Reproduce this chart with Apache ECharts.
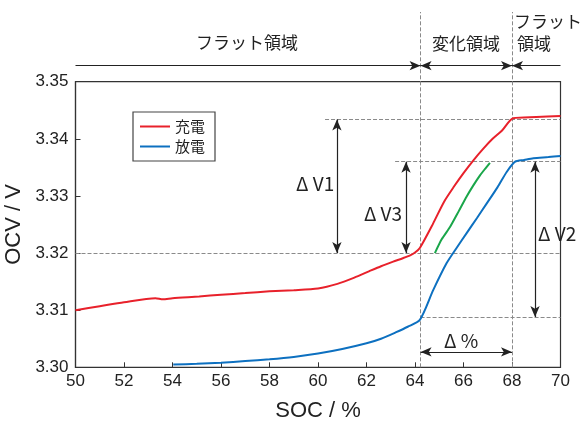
<!DOCTYPE html>
<html>
<head>
<meta charset="utf-8">
<script src="https://cdn.jsdelivr.net/npm/echarts@6/dist/echarts.min.js"></script>
<style>
  html, body { margin: 0; padding: 0; background: #fff; }
  #chart { width: 583px; height: 426px; }
</style>
</head>
<body>
<div id="chart"></div>
<script>
// SOC (%) and open-circuit voltage (V) for each curve
const socCharge = [50, 51, 52, 53.3, 53.6, 54, 55.1, 56, 57, 58, 59, 60, 60.8, 61.5, 62.1, 62.6, 63.1, 63.5, 63.8, 64.0, 64.2, 64.75, 65.2, 65.6, 66.0, 66.4, 66.8, 67.2, 67.6, 68.05, 69, 70];
const ocvCharge = [3.3100, 3.3107, 3.3114, 3.3121, 3.3119, 3.3121, 3.3124, 3.3127, 3.3130, 3.3133, 3.3135, 3.3138, 3.3146, 3.3157, 3.3168, 3.3177, 3.3185, 3.3191, 3.3196, 3.3201, 3.3209, 3.3252, 3.3290, 3.3316, 3.3340, 3.3362, 3.3382, 3.3400, 3.3415, 3.3436, 3.3438, 3.3440];

const socDischarge = [54.03, 55, 56, 57, 58, 59, 60, 61, 62, 62.6, 63.2, 63.7, 64.2, 64.75, 65.3, 65.7, 66.13, 66.55, 66.96, 67.4, 67.78, 68.13, 68.5, 68.88, 69.5, 70];
const ocvDischarge = [3.3005, 3.3006, 3.3008, 3.3011, 3.3014, 3.3018, 3.3024, 3.3032, 3.3042, 3.3050, 3.3061, 3.3071, 3.3083, 3.3135, 3.3182, 3.3208, 3.3235, 3.3261, 3.3287, 3.3315, 3.3342, 3.3360, 3.3363, 3.3366, 3.3368, 3.3370];

const socShifted = [64.82, 65.1, 65.45, 65.8, 66.13, 66.4, 66.68, 66.9, 67.09];
const ocvShifted = [3.3200, 3.3224, 3.3246, 3.3273, 3.3299, 3.3318, 3.3336, 3.3348, 3.3358];

const seriesNames = ['充電', '放電'];
const xTicks = [50, 52, 54, 56, 58, 60, 62, 64, 66, 68, 70];
const yTicks = [3.30, 3.31, 3.32, 3.33, 3.34, 3.35];

// reference levels and boundaries used by the annotations
const socEdgeLow = 64.23;
const socEdgeHigh = 68;
const vChargeTop = 3.3434;
const vDischargeTop = 3.336;
const vBase = 3.32;
const vDischargeLow = 3.3088;
const vRegionLine = 3.3528;
const vGuideTop = 3.3622;
const vSpanArrow = 3.3027;

// plot box in pixels; the overlay grid shares its scale but reaches the top edge
const plot = { left: 75.5, right: 22.5, top: 81.7, bottom: 58.7, height: 426 };
const plotHeight = plot.height - plot.top - plot.bottom;
const overlayMax = 3.30 + 0.05 * (plot.height - plot.bottom) / plotHeight;

const zip = (xs, ys) => xs.map((x, i) => [x, ys[i]]);

const dashed = { type: 'dashed', color: '#8a8a8a', width: 1 };
const solid = { type: 'solid', color: '#222', width: 1.2 };

function seg(x1, y1, x2, y2, style, symbols) {
  return [
    { coord: [x1, y1], lineStyle: style, symbol: symbols ? symbols[0] : 'none' },
    { coord: [x2, y2], symbol: symbols ? symbols[1] : 'none' }
  ];
}

function note(x, y, text, size, align) {
  return {
    coord: [x, y],
    symbol: 'rect',
    symbolSize: 0,
    label: {
      show: true,
      position: 'inside',
      formatter: text,
      fontSize: size,
      color: '#222',
      align: align || 'center',
      fontFamily: '"Noto Sans CJK JP", "Liberation Sans", sans-serif'
    }
  };
}

const numFont = '"Liberation Sans", Arial, sans-serif';

const chart = echarts.init(document.getElementById('chart'));
chart.setOption({
  animation: false,
  grid: [
    {
      left: plot.left, right: plot.right, top: plot.top, bottom: plot.bottom,
      outerBoundsMode: 'none',
      show: true, borderColor: '#333', borderWidth: 1.2, backgroundColor: 'transparent'
    },
    {
      left: plot.left, right: plot.right, top: 0, bottom: plot.bottom,
      outerBoundsMode: 'none', show: false
    }
  ],
  legend: {
    data: seriesNames,
    orient: 'vertical',
    left: 133, top: 112,
    padding: [7, 10, 7, 7],
    itemGap: 5,
    itemWidth: 30, itemHeight: 2,
    icon: 'rect',
    borderColor: '#444', borderWidth: 1.2,
    textStyle: { fontSize: 15, color: '#222', fontFamily: '"Noto Sans CJK JP", sans-serif' }
  },
  xAxis: [
    {
      type: 'value', gridIndex: 0,
      min: 50, max: 70, interval: 2,
      name: 'SOC / %',
      nameLocation: 'middle', nameGap: 33,
      nameTextStyle: { fontSize: 22, color: '#222', fontFamily: numFont },
      axisLine: { lineStyle: { color: '#333', width: 1.2 } },
      axisTick: { inside: true, length: 5, lineStyle: { color: '#333' } },
      axisLabel: { margin: 6, fontSize: 17, color: '#222', fontFamily: numFont },
      splitLine: { show: false }
    },
    { type: 'value', gridIndex: 1, min: 50, max: 70, show: false }
  ],
  yAxis: [
    {
      type: 'value', gridIndex: 0,
      min: 3.30, max: 3.35, interval: 0.01,
      name: 'OCV / V',
      nameLocation: 'middle', nameGap: 40,
      nameTextStyle: { fontSize: 22, color: '#222', fontFamily: numFont },
      axisLine: { lineStyle: { color: '#333', width: 1.2 } },
      axisTick: { inside: true, length: 5, lineStyle: { color: '#333' } },
      axisLabel: { margin: 7, fontSize: 17, color: '#222', fontFamily: numFont, formatter: v => v.toFixed(2) },
      splitLine: { show: false }
    },
    { type: 'value', gridIndex: 1, min: 3.30, max: overlayMax, show: false }
  ],
  series: [
    {
      name: '充電', type: 'line', data: zip(socCharge, ocvCharge),
      showSymbol: false, smooth: 0.25, color: '#e8212b', lineStyle: { width: 2 }, z: 5
    },
    {
      name: '放電', type: 'line', data: zip(socDischarge, ocvDischarge),
      showSymbol: false, smooth: 0.25, color: '#0d70c0', lineStyle: { width: 2 }, z: 5
    },
    {
      name: 'shifted', type: 'line', data: zip(socShifted, ocvShifted),
      showSymbol: false, smooth: 0.2, color: '#1aa64a', lineStyle: { width: 2 }, z: 5
    },
    {
      // guide lines, arrows and region labels
      name: 'notes', type: 'line', data: [], clip: false, silent: true, z: 3,
      xAxisIndex: 1, yAxisIndex: 1,
      markLine: {
        silent: true,
        symbolSize: [7, 11],
        label: { show: false },
        emphasis: { disabled: true },
        data: [
          seg(socEdgeLow, 3.30, socEdgeLow, vGuideTop, dashed),
          seg(socEdgeHigh, 3.30, socEdgeHigh, vGuideTop, dashed),
          seg(60.29, vChargeTop, 70, vChargeTop, dashed),
          seg(63.18, vDischargeTop, 70, vDischargeTop, dashed),
          seg(50, vBase, 70, vBase, dashed),
          seg(socEdgeLow, vDischargeLow, 70, vDischargeLow, dashed),
          seg(60.78, vChargeTop, 60.78, vBase, solid, ['arrow', 'arrow']),
          seg(63.63, vDischargeTop, 63.63, vBase, solid, ['arrow', 'arrow']),
          seg(68.95, vDischargeTop, 68.95, vDischargeLow, solid, ['arrow', 'arrow']),
          seg(socEdgeLow, vSpanArrow, socEdgeHigh, vSpanArrow, solid, ['arrow', 'arrow']),
          seg(50, vRegionLine, socEdgeLow, vRegionLine, solid, ['none', 'arrow']),
          seg(socEdgeLow, vRegionLine, socEdgeHigh, vRegionLine, solid, ['arrow', 'arrow']),
          seg(socEdgeHigh, vRegionLine, 70, vRegionLine, solid, ['arrow', 'none'])
        ]
      },
      markPoint: {
        silent: true,
        data: [
          note(59.88, 3.3321, 'Δ V1', 19),
          note(62.68, 3.3269, 'Δ V3', 19),
          note(69.86, 3.3233, 'Δ V2', 19),
          note(65.9, 3.3046, 'Δ %', 19),
          note(57.07, 3.3568, 'フラット領域', 17),
          note(66.1, 3.3566, '変化領域', 17),
          note(68.91, 3.3566, '領域', 17),
          note(69.48, 3.3605, 'フラット', 17)
        ]
      }
    }
  ]
});
</script>
</body>
</html>
